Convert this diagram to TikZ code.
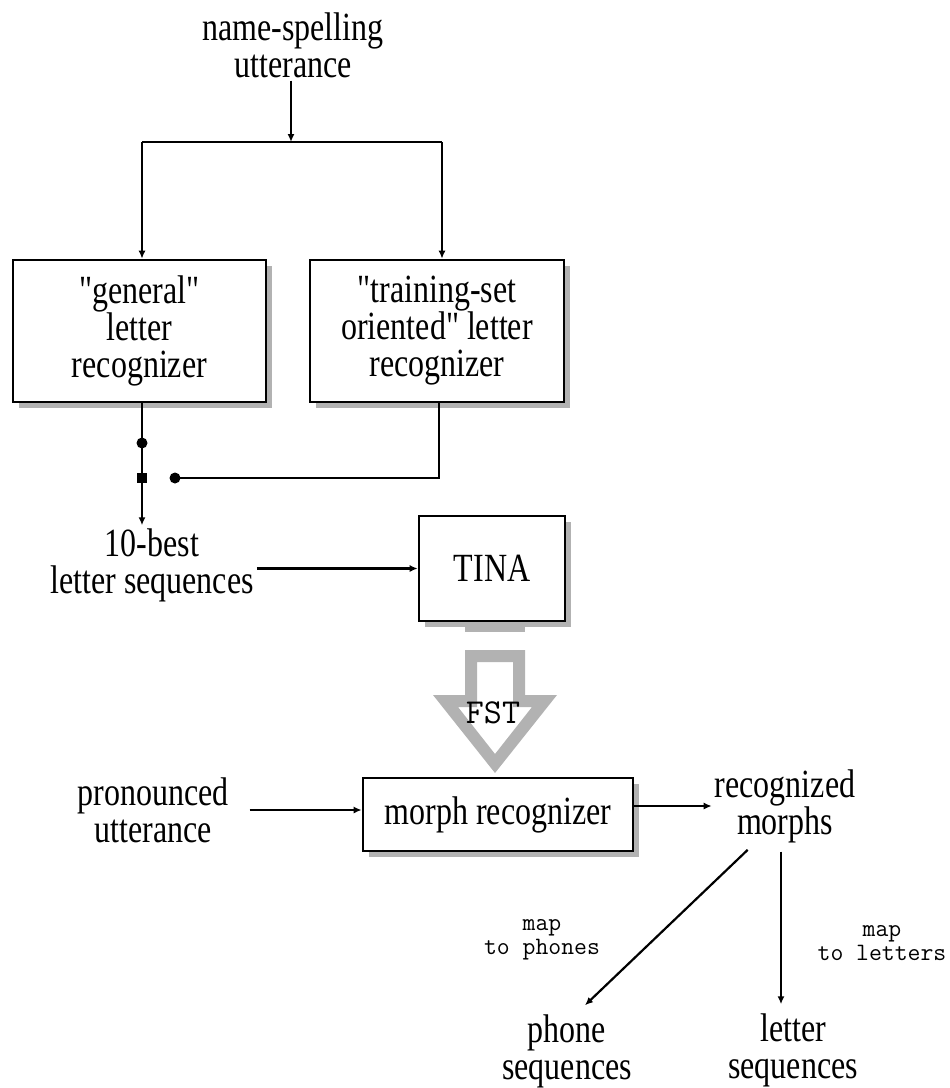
\documentclass[tikz,border=0pt]{standalone}
\usepackage{fontspec}
\setmainfont{Liberation Serif}[FakeStretch=0.8,Ligatures=TeXOff]
\usetikzlibrary{arrows.meta,shadows,positioning}

\begin{document}
\begin{tikzpicture}[x=1pt,y=-1pt,auto,
                    line width=2.2pt,>={Latex[length=8pt,width=7pt]},
                    box node/.style={rectangle,draw,line width=2.6pt,fill=white,align=center,
                      font=\fontsize{40}{37}\selectfont,
                      drop shadow={shadow xshift=6pt,shadow yshift=-6pt,fill=gray!60,opacity=1}},
                    label node/.style={align=center,inner sep=2pt,font=\fontsize{40}{37}\selectfont},
                    map node/.style={align=center,inner sep=0pt,font=\fontsize{25}{24}\ttfamily}]

  \useasboundingbox (0,0) rectangle (950,1088);

  % bit of the FST arrow showing under TINA
  \fill[gray!60] (465,621) rectangle (525,632);

  \node[label node] (spell) at (293,45) {name-spelling\\utterance};
  \node[box node,minimum width=253pt,minimum height=142pt] (gen) at (139.5,331) {"general"\\letter\\recognizer};
  \node[box node,minimum width=254pt,minimum height=142pt] (train) at (437,331) {"training-set\\oriented" letter\\recognizer};
  \node[label node] (best) at (152,565) {10-best\\letter sequences};
  \node[box node,minimum width=146pt,minimum height=105pt] (tina) at (492,568.5) {TINA};
  \node[label node] (pron) at (153,810) {pronounced\\utterance};
  \node[box node,minimum width=270pt,minimum height=73pt] (morph) at (498,814.5) {morph recognizer};
  \node[label node] (recog) at (785,806) {recognized\\morphs};
  \node[label node] (phone) at (567,1051) {phone\\sequences};
  \node[label node] (letter) at (793,1050) {letter\\sequences};
  \node[map node] (tophone) at (542,940) {map\\to phones};
  \node[map node] (toletter) at (882,943) {map\\to letters};

  \coordinate (split) at (291,142);
  \coordinate (jl) at (142,142);
  \coordinate (jr) at (442,142);
  \coordinate (c1) at (142,443);
  \coordinate (c2) at (142,478);
  \coordinate (c3) at (175,478);
  \coordinate (c4) at (439,478);

  % fork to the two recognizers
  \draw[->] (spell.south -| split) -- (split);
  \draw (jl) -- (jr);
  \draw[->] (jl) -- (jl |- gen.north);
  \draw[->] (jr) -- (jr |- train.north);

  % switch
  \draw (gen.south -| c1) -- (c1) -- (c2);
  \draw[->] (c2) -- (best.north -| c2);
  \draw (train.south -| c4) -- (c4) -- (c3);
  \fill (c1) circle (5.5pt);
  \fill ([shift={(-5pt,-5pt)}]c2) rectangle ++(10pt,10pt);
  \fill (c3) circle (5.5pt);

  \draw[->] (best.east |- tina.west) -- (tina.west);

  % FST arrow
  \fill[gray!60,even odd rule]
    (465,650) -- (525,650) -- (525,695) -- (557,695) -- (495,773) -- (433,695) -- (465,695) -- cycle
    (477,662) -- (513,662) -- (513,707) -- (532,707) -- (495,754) -- (458,707) -- (477,707) -- cycle;
  \node[font=\fontsize{35}{35}\ttfamily] (fst) at (493,713) {FST};

  \draw[->,shorten <=18pt] (pron.east) -- (pron.east -| morph.west);
  \draw[->] (morph.east |- recog.west) -- (recog.west);
  \draw[->,shorten <=6pt] ([xshift=-33pt]recog.south) -- ([xshift=18pt,yshift=6pt]phone.north);
  \draw[->,shorten <=6pt] ([xshift=-4pt]recog.south) -- ([xshift=-12pt,yshift=6pt]letter.north);
\end{tikzpicture}
\end{document}
